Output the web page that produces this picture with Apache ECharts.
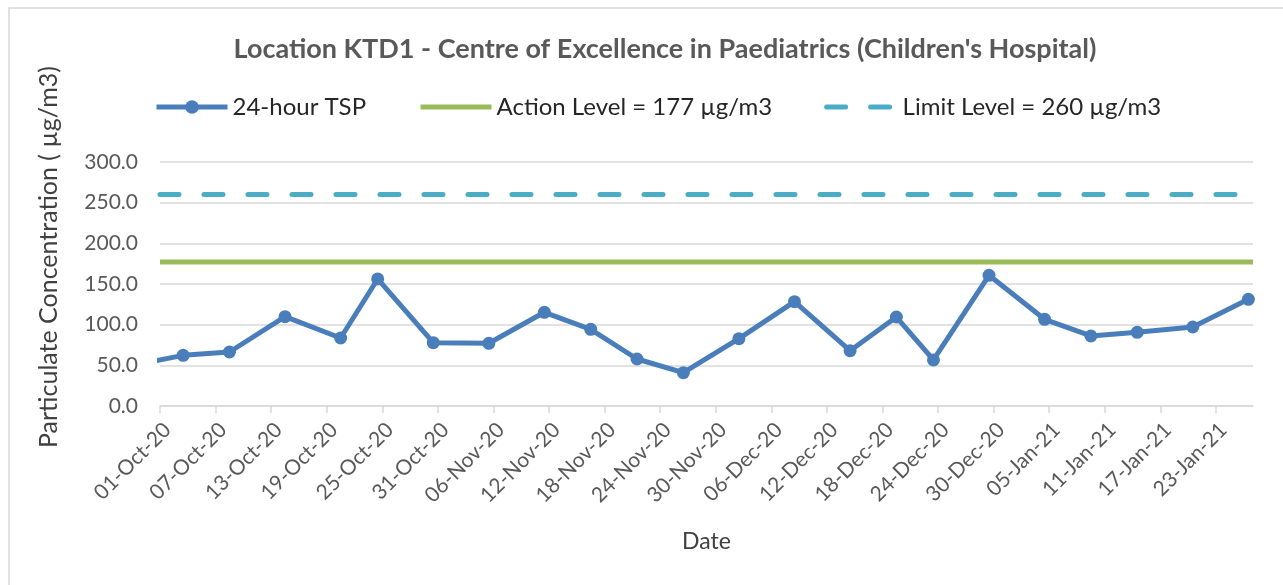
<!DOCTYPE html>
<html lang="en">
<head>
  <meta charset="UTF-8">
  <title>KTD1 TSP</title>
  <style>
    html, body { margin: 0; padding: 0; background: #fff; }
    #main { width: 1283px; height: 585px; }
  </style>
</head>
<body>
  <div id="main"></div>
</body>
<script src="https://cdn.jsdelivr.net/npm/echarts@6/dist/echarts.min.js"></script>
<script>
  // sampling dates and 24-hour TSP readings (ug/m3)
  const sampleDates = ['2020-09-27', '2020-10-03', '2020-10-08', '2020-10-14', '2020-10-20', '2020-10-24',
    '2020-10-30', '2020-11-05', '2020-11-11', '2020-11-16', '2020-11-21', '2020-11-26', '2020-12-02',
    '2020-12-08', '2020-12-14', '2020-12-19', '2020-12-23', '2020-12-29', '2021-01-04', '2021-01-09',
    '2021-01-14', '2021-01-20', '2021-01-26'];
  const tspValues = [48.6, 62.3, 66.4, 109.8, 83.6, 156.2, 77.9, 77.1, 115.2, 94.3, 57.8, 41.0, 82.8,
    128.3, 68.0, 109.4, 56.6, 160.7, 106.6, 86.1, 90.6, 97.1, 131.2];

  const actionLevel = 177;
  const limitLevel = 260;

  // axis range, in dates
  const axisStart = '2020-10-01';
  const axisEnd = '2021-01-27';
  const tickDays = 6;

  const months = ['Jan', 'Feb', 'Mar', 'Apr', 'May', 'Jun', 'Jul', 'Aug', 'Sep', 'Oct', 'Nov', 'Dec'];
  const DAY = 86400000;

  function toDay(s) {
    return (Date.parse(s + 'T00:00:00Z') - Date.parse(axisStart + 'T00:00:00Z')) / DAY;
  }

  function dayLabel(d) {
    const dt = new Date(Date.parse(axisStart + 'T00:00:00Z') + Math.round(d) * DAY);
    const dd = String(dt.getUTCDate()).padStart(2, '0');
    const yy = String(dt.getUTCFullYear()).slice(2);
    return dd + '-' + months[dt.getUTCMonth()] + '-' + yy;
  }

  const xMax = toDay(axisEnd);
  // Excel date axis puts each point in the middle of its day
  const tspData = sampleDates.map((d, i) => [toDay(d) + 0.5, tspValues[i]]);

  const font = 'Lato, "Open Sans", sans-serif';
  const grey = '#595959';
  const blue = '#4a7ebb', green = '#9bbb59', cyan = '#4bacc6';
  const dash = [19, 25];

  const chart = echarts.init(document.getElementById('main'));

  chart.setOption({
    backgroundColor: '#fff',
    textStyle: { fontFamily: font },
    graphic: [{
      type: 'rect',
      shape: { x: 9, y: 8, width: 1300, height: 620 },
      style: { fill: 'none', stroke: '#d9d9d9', lineWidth: 1.5 },
      silent: true
    }],
    title: {
      text: "Location KTD1 - Centre of Excellence in Paediatrics (Children's Hospital)",
      left: 660,
      textAlign: 'center',
      top: 31,
      textStyle: { fontFamily: font, fontSize: 27, fontWeight: 'bold', color: grey }
    },
    legend: {
      top: 90,
      left: 149,
      itemWidth: 71,
      itemHeight: 17,
      itemGap: 52,
      textStyle: { fontFamily: font, fontSize: 24, color: '#262626' },
      lineStyle: { width: 5 },
      data: [
        { name: '24-hour TSP' },
        { name: 'Action Level = 177 µg/m3', itemStyle: { opacity: 0 } },
        { name: 'Limit Level = 260 µg/m3', itemStyle: { opacity: 0 }, lineStyle: { width: 5, type: dash, cap: 'round' } }
      ]
    },
    grid: { left: 160, right: 30, top: 162, bottom: 179 },
    xAxis: {
      type: 'value',
      min: 0,
      max: xMax,
      interval: tickDays,
      name: 'Date',
      nameLocation: 'middle',
      nameGap: 124,
      nameTextStyle: { fontFamily: font, fontSize: 23, color: '#404040' },
      axisLine: { lineStyle: { color: '#d9d9d9', width: 1.5 } },
      axisTick: { show: true, length: 7, lineStyle: { color: '#d9d9d9', width: 1.5 } },
      splitLine: { show: false },
      axisLabel: {
        rotate: 45,
        margin: 13,
        fontSize: 21,
        color: grey,
        verticalAlign: 'top',
        showMaxLabel: false,
        formatter: v => dayLabel(v)
      }
    },
    yAxis: {
      type: 'value',
      min: 0,
      max: 300,
      interval: 50,
      name: 'Particulate Concentration ( µg/m3)',
      nameLocation: 'middle',
      nameGap: 99,
      nameTextStyle: { fontFamily: font, fontSize: 25, color: '#404040', padding: [0, 0, 0, 54] },
      axisLine: { show: false },
      axisTick: { show: false },
      splitLine: { lineStyle: { color: '#d9d9d9', width: 1.5 } },
      axisLabel: {
        margin: 22,
        fontSize: 21,
        color: grey,
        formatter: v => v.toFixed(1)
      }
    },
    series: [
      {
        name: '24-hour TSP',
        type: 'line',
        data: tspData,
        symbol: 'circle',
        symbolSize: 13,
        z: 5,
        itemStyle: { color: blue },
        lineStyle: { color: blue, width: 5 }
      },
      {
        name: 'Action Level = 177 µg/m3',
        type: 'line',
        data: [[0, actionLevel], [xMax, actionLevel]],
        symbol: 'none',
        itemStyle: { color: green },
        lineStyle: { color: green, width: 5 }
      },
      {
        name: 'Limit Level = 260 µg/m3',
        type: 'line',
        data: [[0, limitLevel], [xMax, limitLevel]],
        symbol: 'none',
        itemStyle: { color: cyan },
        lineStyle: { color: cyan, width: 5, type: dash, cap: 'round' }
      }
    ]
  });
</script>
</html>
